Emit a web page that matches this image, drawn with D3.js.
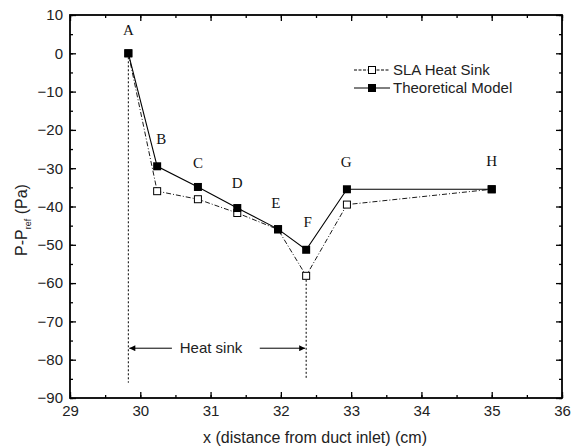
<!doctype html>
<html lang="en">
<head>
<meta charset="utf-8">
<title>Pressure drop along duct</title>
<style>
  body { margin: 0; background: #fff; }
  svg { display: block; font-family: Arial, "Liberation Sans", sans-serif; }
  .tick text { font-size: 15px; fill: #222; }
  .lbl { font-family: "Liberation Serif", "Times New Roman", serif; font-size: 15px; fill: #111; }
</style>
</head>
<body>
<svg id="chart" width="587" height="447"></svg>
<script src="https://d3js.org/d3.v7.min.js"></script>
<script>
  // points along the duct
  var pointNames = ["A", "B", "C", "D", "E", "F", "G", "H"]
  var xPos = [29.83, 30.24, 30.82, 31.38, 31.96, 32.36, 32.94, 35.0]
  var slaHeatSink = [0, -36, -38.1, -41.7, -46, -58.1, -39.5, -35.5]
  var theoretical = [0, -29.5, -34.9, -40.4, -45.9, -51.3, -35.5, -35.5]
  // where the point letters sit, in data units
  var labelX = [29.83, 30.3, 30.82, 31.38, 31.93, 32.38, 32.93, 35.0]
  var labelY = [6, -22.5, -28.7, -33.9, -39.2, -44.1, -28.5, -28.2]
  var xTicks = [29, 30, 31, 32, 33, 34, 35, 36]
  var yTicks = [10, 0, -10, -20, -30, -40, -50, -60, -70, -80, -90]

  var svg = d3.select("#chart")
  var pL = 70, pR = 562, pT = 15, pB = 398

  var x = d3.scaleLinear().domain([29, 36]).range([pL, pR])
  var y = d3.scaleLinear().domain([-90, 10]).range([pB, pT])

  var minorX = d3.range(29, 36.01, 0.5)
  var minorY = d3.range(-90, 10.01, 5)

  // axes: ticks point inward on all four sides
  function drawAxis(axis, tf, hide) {
    var g = svg.append("g").attr("transform", tf).call(axis)
    g.select(".domain").remove()
    g.selectAll(".tick line").attr("stroke", "#000").attr("stroke-width", 1.3)
    if (hide) g.selectAll("text").remove()
    return g
  }
  drawAxis(d3.axisBottom(x).tickValues(xTicks).tickFormat(d3.format("d")).tickSizeInner(-6).tickSizeOuter(0).tickPadding(7),
    "translate(0," + pB + ")")
  drawAxis(d3.axisBottom(x).tickValues(minorX).tickSizeInner(-3).tickSizeOuter(0), "translate(0," + pB + ")", true)
  drawAxis(d3.axisTop(x).tickValues(xTicks).tickSizeInner(-6).tickSizeOuter(0), "translate(0," + pT + ")", true)
  drawAxis(d3.axisTop(x).tickValues(minorX).tickSizeInner(-3).tickSizeOuter(0), "translate(0," + pT + ")", true)
  drawAxis(d3.axisLeft(y).tickValues(yTicks).tickFormat(d3.format("d")).tickSizeInner(-6).tickSizeOuter(0).tickPadding(7),
    "translate(" + pL + ",0)")
  drawAxis(d3.axisLeft(y).tickValues(minorY).tickSizeInner(-3).tickSizeOuter(0), "translate(" + pL + ",0)", true)
  drawAxis(d3.axisRight(y).tickValues(yTicks).tickSizeInner(-6).tickSizeOuter(0), "translate(" + pR + ",0)", true)
  drawAxis(d3.axisRight(y).tickValues(minorY).tickSizeInner(-3).tickSizeOuter(0), "translate(" + pR + ",0)", true)

  svg.append("rect").attr("x", pL).attr("y", pT)
    .attr("width", pR - pL).attr("height", pB - pT)
    .attr("fill", "none").attr("stroke", "#000").attr("stroke-width", 1.8)

  // axis titles
  svg.append("text").attr("x", 315).attr("y", 443)
    .attr("text-anchor", "middle").attr("font-size", 16).attr("fill", "#222")
    .text("x (distance from duct inlet) (cm)")
  var yl = svg.append("text").attr("transform", "translate(27,220) rotate(-90)")
    .attr("text-anchor", "middle").attr("font-size", 16).attr("fill", "#222")
  yl.append("tspan").text("P-P")
  yl.append("tspan").attr("font-size", 9).attr("dy", 4).text("ref")
  yl.append("tspan").attr("dy", -4).text(" (Pa)")

  // heat sink extent markers
  var hs0 = xPos[0], hs1 = xPos[5]
  svg.append("line").attr("x1", x(hs0)).attr("x2", x(hs0)).attr("y1", y(0)).attr("y2", y(-86))
    .attr("stroke", "#000").attr("stroke-width", 1).attr("stroke-dasharray", "2,2")
  svg.append("line").attr("x1", x(hs1)).attr("x2", x(hs1)).attr("y1", y(slaHeatSink[5])).attr("y2", y(-84.8))
    .attr("stroke", "#000").attr("stroke-width", 1).attr("stroke-dasharray", "2,2")

  var defs = svg.append("defs")
  defs.append("marker").attr("id", "arr").attr("viewBox", "0 0 10 10").attr("refX", 10).attr("refY", 5)
    .attr("markerWidth", 9).attr("markerHeight", 6).attr("orient", "auto-start-reverse")
    .attr("markerUnits", "userSpaceOnUse")
    .append("path").attr("d", "M0,0L10,5L0,10z").attr("fill", "#000")
  var ay = y(-77)
  svg.append("line").attr("x1", x(30.45)).attr("x2", x(hs0) + 1).attr("y1", ay).attr("y2", ay)
    .attr("stroke", "#000").attr("stroke-width", 1).attr("marker-end", "url(#arr)")
  svg.append("line").attr("x1", x(31.7)).attr("x2", x(hs1) - 1).attr("y1", ay).attr("y2", ay)
    .attr("stroke", "#000").attr("stroke-width", 1).attr("marker-end", "url(#arr)")
  svg.append("text").attr("x", 211).attr("y", ay + 5).attr("text-anchor", "middle")
    .attr("font-size", 15).attr("fill", "#222").text("Heat sink")

  // series
  var line = d3.line().x(function(d) { return x(d[0]) }).y(function(d) { return y(d[1]) })
  var slaPts = xPos.map(function(v, i) { return [v, slaHeatSink[i]] })
  var thPts = xPos.map(function(v, i) { return [v, theoretical[i]] })

  svg.append("path").datum(slaPts).attr("d", line).attr("fill", "none")
    .attr("stroke", "#000").attr("stroke-width", 0.9).attr("stroke-dasharray", "5,2,1,2")
  svg.append("path").datum(thPts).attr("d", line).attr("fill", "none")
    .attr("stroke", "#000").attr("stroke-width", 1.1)

  var ms = 7
  svg.selectAll(".sla").data(slaPts).enter().append("rect")
    .attr("x", function(d) { return x(d[0]) - ms / 2 }).attr("y", function(d) { return y(d[1]) - ms / 2 })
    .attr("width", ms).attr("height", ms).attr("fill", "#fff").attr("stroke", "#000").attr("stroke-width", 1)
  svg.selectAll(".th").data(thPts).enter().append("rect")
    .attr("x", function(d) { return x(d[0]) - ms / 2 - 0.5 }).attr("y", function(d) { return y(d[1]) - ms / 2 - 0.5 })
    .attr("width", ms + 1).attr("height", ms + 1).attr("fill", "#000")

  // point letters
  svg.selectAll(".lbl").data(pointNames).enter().append("text").attr("class", "lbl")
    .attr("x", function(d, i) { return x(labelX[i]) })
    .attr("y", function(d, i) { return y(labelY[i]) + 5 })
    .attr("text-anchor", "middle").text(function(d) { return d })

  // legend
  var leg = svg.append("g")
  var rows = [["SLA Heat Sink", "3,1.5", "#fff"], ["Theoretical Model", null, "#000"]]
  rows.forEach(function(r, i) {
    var ly = 70 + i * 18
    leg.append("line").attr("x1", 354).attr("x2", 390).attr("y1", ly).attr("y2", ly)
      .attr("stroke", "#000").attr("stroke-width", 1).attr("stroke-dasharray", r[1] || null)
    leg.append("rect").attr("x", 372 - ms / 2).attr("y", ly - ms / 2).attr("width", ms).attr("height", ms)
      .attr("fill", r[2]).attr("stroke", "#000").attr("stroke-width", 1)
    leg.append("text").attr("x", 393).attr("y", ly + 5).attr("font-size", 15).attr("fill", "#222").text(r[0])
  })
</script>
</body>
</html>
